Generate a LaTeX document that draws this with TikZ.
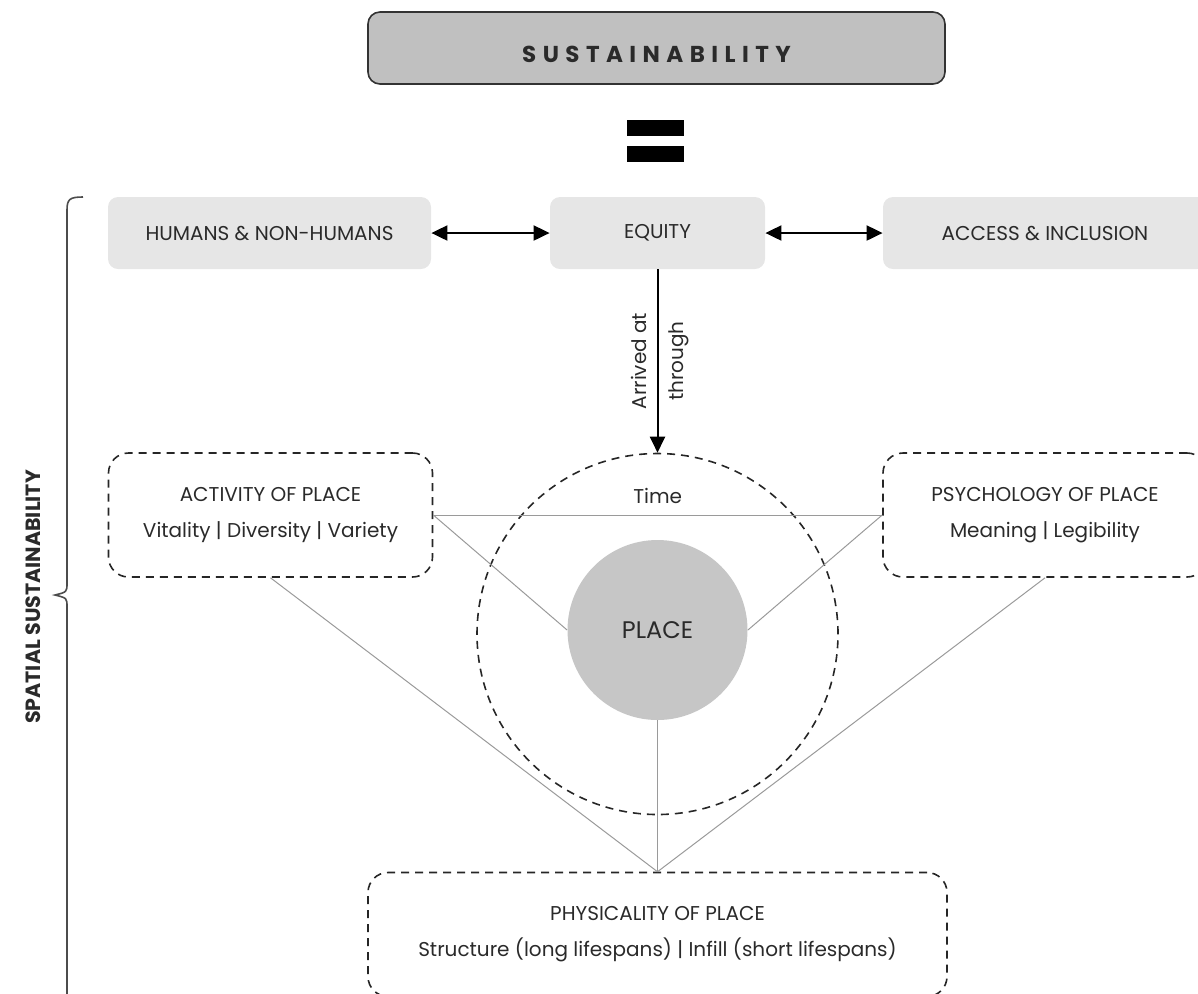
\documentclass[tikz,border=0pt]{standalone}
\usepackage{fontspec}
\setmainfont{Poppins}
\newfontfamily\spacedfont[LetterSpace=28]{Poppins}
\usetikzlibrary{arrows.meta}
\definecolor{boxgray}{HTML}{C0C0C0}
\definecolor{lightbox}{HTML}{E6E6E6}
\definecolor{placegray}{HTML}{C6C6C6}
\definecolor{linkgray}{HTML}{9A9A9A}
\definecolor{inkgray}{HTML}{2A2A2A}
\begin{document}
\begin{tikzpicture}[x=0.5pt,y=-0.5pt,
    font=\fontsize{10}{12}\selectfont, text=inkgray,
    headbox/.style={draw=black!80,line width=0.8pt,fill=boxgray,rounded corners=6pt,
        minimum width=288.5pt,minimum height=36pt,text height=14pt,text depth=0pt},
    topic/.style={fill=lightbox,rounded corners=5pt,minimum width=161.5pt,minimum height=36pt},
    facet/.style={draw=black!85,dashed,dash pattern=on 4pt off 3pt,line width=0.8pt,
        rounded corners=10pt,minimum width=162pt,minimum height=62pt,align=center},
    link/.style={draw=linkgray,line width=0.5pt},
    both/.style={line width=1pt,{Triangle[length=8pt,width=7.5pt]}-{Triangle[length=8pt,width=7.5pt]}},
    down/.style={line width=1pt,-{Triangle[length=8pt,width=7.5pt]}}]
    \useasboundingbox (0,0) rectangle (1198,993);

    % heading
    \node[headbox] (sust) at (656.5,48) {\spacedfont\bfseries\fontsize{11.5}{13}\selectfont SUSTAINABILITY};
    \fill (627,120) rectangle (684,136);
    \fill (627,146) rectangle (684,162);

    % spatial bracket
    \draw[black!70,line width=0.8pt] (83,197) .. controls (70,197) and (67,199) .. (67,210) -- (67,583)
        .. controls (67,592) .. (55,595) .. controls (67,598) .. (67,607) -- (67,1000);
    \node[rotate=90,font=\bfseries\fontsize{10.3}{12}\selectfont] (spatial) at (33,597) {SPATIAL SUSTAINABILITY};

    % top row
    \node[topic] (humans) at (269.5,233) {HUMANS \& NON-HUMANS};
    \node[topic,minimum width=107.5pt] (equity) at (657.5,233) {EQUITY};
    \node[topic,minimum width=162pt] (access) at (1045,233) {ACCESS \& INCLUSION};
    \draw[both] (humans) -- (equity);
    \draw[both] (equity) -- (access);

    % place
    \node[circle,draw=black!85,dashed,dash pattern=on 4pt off 3pt,line width=0.8pt,
        minimum size=180.5pt] (orbit) at (657.5,634) {};
    \node[circle,fill=placegray,minimum size=90pt,font=\fontsize{12}{14}\selectfont] (place) at (657.5,630) {PLACE};
    \draw[down] (equity) -- (orbit.north)
        node[midway,xshift=1.5pt,rotate=90,align=center,font=\fontsize{10}{18.5}\selectfont] {Arrived at\\through};

    % facets
    \node[facet] (activity) at (270.5,515) {ACTIVITY OF PLACE\\[6pt]Vitality | Diversity | Variety};
    \node[facet] (psychology) at (1045,515) {PSYCHOLOGY OF PLACE\\[6pt]Meaning | Legibility};
    \node[facet,minimum width=289.5pt] (physicality) at (657.5,934.5)
        {PHYSICALITY OF PLACE\\[6pt]Structure (long lifespans) | Infill (short lifespans)};

    \draw[link] (activity.east) -- node[above=2pt] {Time} (psychology.west);
    \draw[link] (activity.east) -- (place.west);
    \draw[link] (psychology.west) -- (place.east);
    \draw[link] (activity.south) -- (physicality.north);
    \draw[link] (psychology.south) -- (physicality.north);
    \draw[link] (place.south) -- (physicality.north);
\end{tikzpicture}
\end{document}
